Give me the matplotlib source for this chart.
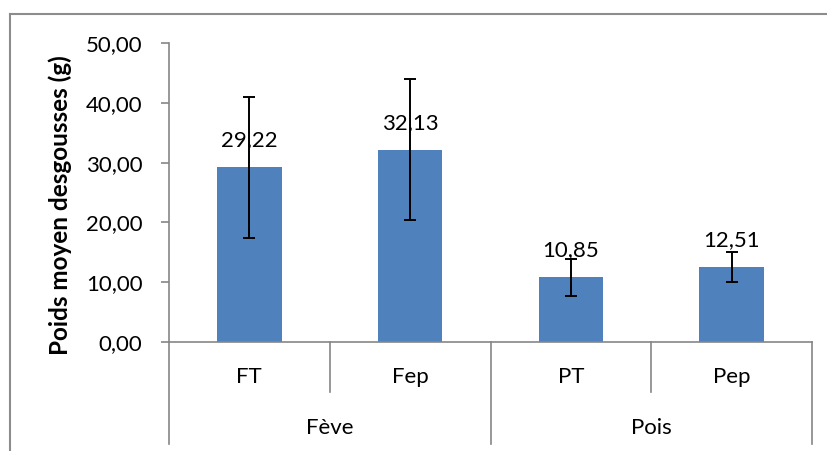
import matplotlib
matplotlib.use("Agg")
import matplotlib.pyplot as plt
from matplotlib.lines import Line2D

plt.rcParams['font.family'] = ['Lato', 'DejaVu Sans']

categories = ["FT", "Fep", "PT", "Pep"]
groups = ["Fève", "Pois"]
values = [29.22, 32.13, 10.85, 12.51]
errors = [11.8, 11.8, 3.1, 2.55]
yticks = [0, 10, 20, 30, 40, 50]

FS = 16
W, H = 827, 451
fig = plt.figure(figsize=(W / 100, H / 100), dpi=100)
ax = fig.add_axes([169 / W, 1 - 342 / H, (812 - 169) / W, (342 - 43) / H])

x = list(range(len(categories)))
ax.bar(x, values, width=0.4, color="#4F81BD", zorder=2)
ax.errorbar(x, values, yerr=errors, fmt="none", ecolor="black",
            elinewidth=1.4, capsize=4, capthick=1.4, zorder=3)
for xi, v in zip(x, values):
    ax.annotate(f"{v:.2f}".replace(".", ","), (xi, v), xytext=(0, 19.5),
                textcoords="offset points", ha="center", va="center",
                fontsize=FS, zorder=4)

ax.set_xlim(-0.5, len(categories) - 0.5)
ax.set_ylim(0, 50)
ax.set_yticks(yticks)
ax.set_yticklabels([f"{t:.2f}".replace(".", ",") for t in yticks], fontsize=FS)
ax.set_xticks([])
for s in ["top", "right"]:
    ax.spines[s].set_visible(False)
gray = "#868686"
ax.spines["left"].set_color(gray)
ax.spines["bottom"].set_color(gray)
ax.spines["left"].set_linewidth(1.2)
ax.spines["bottom"].set_linewidth(1.2)
ax.tick_params(axis="y", length=6, width=1.2, color=gray, pad=13)

trans = ax.get_xaxis_transform()
ax_h = 342 - 43
def fy(py):
    return (342 - py) / ax_h

# separators
for i in range(len(categories) + 1):
    xs = i - 0.5
    bottom = fy(444) if i % 2 == 0 else fy(392)
    ax.add_line(Line2D([xs, xs], [0, bottom], transform=trans, color=gray,
                       lw=1.2, clip_on=False))
for xi, c in zip(x, categories):
    ax.text(xi, fy(377), c, transform=trans, ha="center", va="center", fontsize=FS)
for gi, g in enumerate(groups):
    ax.text(gi * 2 + 0.5, fy(428), g, transform=trans, ha="center", va="center", fontsize=FS)

fig.text(60 / W, 1 - 205 / H, "Poids moyen desgousses (g)", rotation=90,
         ha="center", va="center", fontsize=17.5, fontweight="bold")

# outer chart border (top and left visible)
fig.add_artist(Line2D([10 / W, 10 / W], [0, 1 - 14 / H], transform=fig.transFigure,
                      color="#8c8c8c", lw=1.5))
fig.add_artist(Line2D([10 / W, 1], [1 - 14 / H, 1 - 14 / H], transform=fig.transFigure,
                      color="#8c8c8c", lw=1.5))

fig.savefig("out.png", dpi=100)
